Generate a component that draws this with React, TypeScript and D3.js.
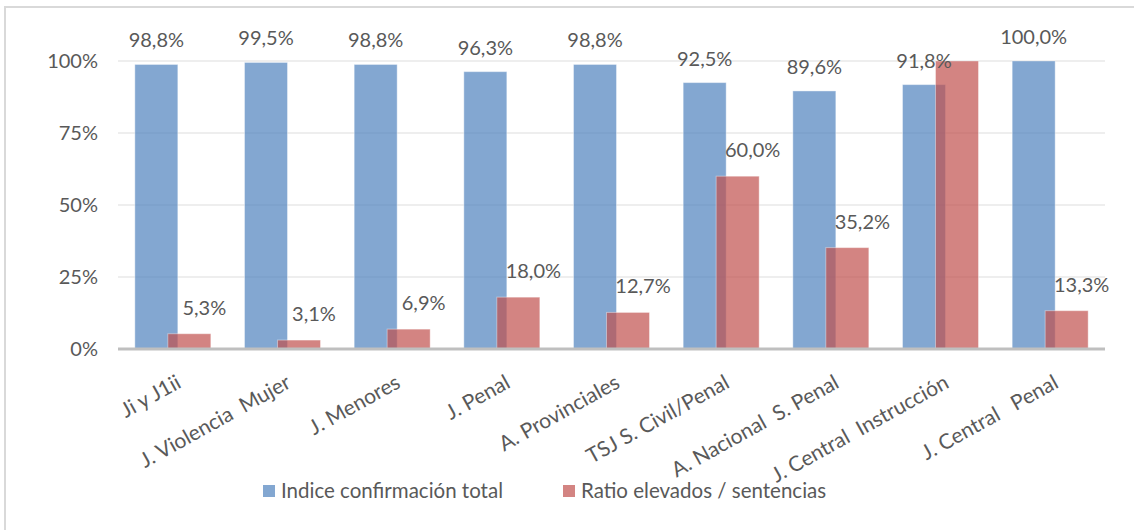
import * as d3 from 'd3'

const categories = [
  'Ji y J1ii',
  'J. Violencia  Mujer',
  'J. Menores',
  'J. Penal',
  'A. Provinciales',
  'TSJ S. Civil/Penal',
  'A. Nacional  S. Penal',
  'J. Central  Instrucción',
  'J. Central   Penal',
]
const indiceConfirmacion = [98.8, 99.5, 98.8, 96.3, 98.8, 92.5, 89.6, 91.8, 100.0]
const ratioElevados = [5.3, 3.1, 6.9, 18.0, 12.7, 60.0, 35.2, 100.0, 13.3]
// the label on this red bar is not shown in the original
const hiddenRedLabels = ['J. Central  Instrucción']
const yTicks = [0, 25, 50, 75, 100]
const seriesNames = ['Indice confirmación total', 'Ratio elevados / sentencias']

const W = 1134
const H = 530
const plot = { left: 118, right: 1105, top: 61, bottom: 349 }
const barW = 43
const FONT = 'Lato, "Open Sans", sans-serif'
const TEXT = '#595959'
const BLUE = '#4F81BD'
const RED = '#C0504D'

const fmt = (v: number) => d3.format('.1f')(v).replace('.', ',') + '%'

export default function App() {
  const x = d3.scaleBand<string>().domain(categories).range([plot.left, plot.right]).padding(0)
  const y = d3.scaleLinear().domain([0, 100]).range([plot.bottom, plot.top])
  const cx = (c: string) => (x(c) as number) + x.bandwidth() / 2
  const blueX = (c: string) => cx(c) - 38
  const redX = (c: string) => cx(c) - 5

  return (
    <svg width={W} height={H} style={{ position: 'absolute', left: 0, top: 0, background: '#fff' }}>
      <rect x={5} y={7} width={W + 20} height={H + 20} fill="#fff" stroke="#d9d9d9" strokeWidth={2} />

      {yTicks.filter(t => t > 0).map(t => (
        <line key={t} x1={plot.left} x2={plot.right} y1={y(t)} y2={y(t)} stroke="#eeeeee" strokeWidth={2} />
      ))}

      {yTicks.map(t => (
        <text key={t} x={98} y={y(t)} dy="0.35em" textAnchor="end" fontFamily={FONT} fontSize={20} fill={TEXT}>
          {t}%
        </text>
      ))}

      {categories.map((c, i) => (
        <rect key={'b' + i} x={blueX(c)} y={y(indiceConfirmacion[i])} width={barW}
          height={y(0) - y(indiceConfirmacion[i])} fill={BLUE} fillOpacity={0.7}
          stroke="#fff" strokeOpacity={0.4} strokeWidth={1} />
      ))}
      {categories.map((c, i) => (
        <rect key={'r' + i} x={redX(c)} y={y(ratioElevados[i])} width={barW}
          height={y(0) - y(ratioElevados[i])} fill={RED} fillOpacity={0.7}
          stroke="#fff" strokeOpacity={0.4} strokeWidth={1} />
      ))}

      <line x1={plot.left} x2={plot.right} y1={y(0)} y2={y(0)} stroke="#bfbfbf" strokeWidth={3} />

      {categories.map((c, i) => (
        <text key={'lb' + i} x={blueX(c) + barW / 2} y={y(indiceConfirmacion[i]) - 17} textAnchor="middle"
          fontFamily={FONT} fontSize={20} fill={TEXT}>
          {fmt(indiceConfirmacion[i])}
        </text>
      ))}
      {categories.map((c, i) =>
        hiddenRedLabels.includes(c) ? null : (
          <text key={'lr' + i} x={redX(c) + barW / 2 + 15} y={y(ratioElevados[i]) - 19} textAnchor="middle"
            fontFamily={FONT} fontSize={20} fill={TEXT}>
            {fmt(ratioElevados[i])}
          </text>
        )
      )}

      {categories.map(c => (
        <text key={'x' + c} transform={`translate(${cx(c) + 2},${373}) rotate(-29)`} textAnchor="end"
          dy="0.75em" fontFamily={FONT} fontSize={21} fill={TEXT} style={{ whiteSpace: 'pre' }}>
          {c}
        </text>
      ))}

      {seriesNames.map((s, i) => {
        const lx = i === 0 ? 263 : 563
        return (
          <g key={s}>
            <rect x={lx} y={485} width={12} height={12} fill={i === 0 ? BLUE : RED} fillOpacity={0.7} />
            <text x={lx + 18} y={491} dy="0.35em" fontFamily={FONT} fontSize={20.5} fill={TEXT}>
              {s}
            </text>
          </g>
        )
      })}
    </svg>
  )
}
